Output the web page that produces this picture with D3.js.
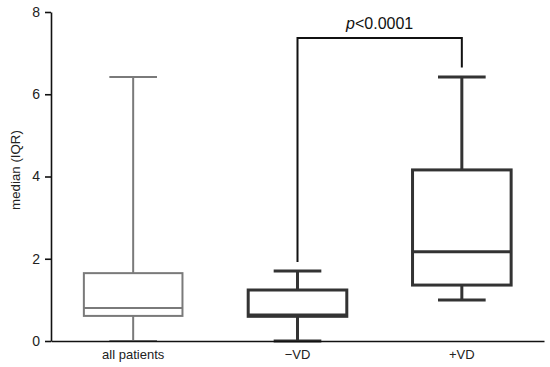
<!DOCTYPE html>
<html><head><meta charset="utf-8">
<script src="https://cdn.jsdelivr.net/npm/d3@7"></script>
<style>body{margin:0;background:#fff}svg{display:block;font-family:"Liberation Sans",Arial,sans-serif}</style>
</head><body><svg id="c" width="550" height="367"></svg>
<script>
const categories = ["all patients", "\u2212VD", "+VD"];
const mins    = [0.0, 0.0, 1.0];
const q1s     = [0.61, 0.60, 1.36];
const medians = [0.80, 0.63, 2.17];
const q3s     = [1.65, 1.24, 4.16];
const maxs    = [6.42, 1.70, 6.42];
const colors  = ["#7a7a7a", "#333333", "#333333"];
const widths  = [2, 3, 3];
const yTicks  = [0, 2, 4, 6, 8];
const pText   = "<0.0001";
const bracketY = 7.37;
const bracketLeftEnd = 1.92;
const bracketRightEnd = 6.65;

const svg = d3.select("#c");
const x = d3.scaleBand().domain(categories).range([51, 544]).padding(0);
const y = d3.scaleLinear().domain([0, 8]).range([341, 12]);

const yAxis = svg.append("g").attr("transform", "translate(51,0)")
  .call(d3.axisLeft(y).tickValues(yTicks).tickSize(6).tickPadding(5).tickSizeOuter(0));
yAxis.selectAll("text").attr("font-size", 14).attr("fill", "#222");
yAxis.select(".domain").attr("stroke", "#111").attr("stroke-width", 1.6);
yAxis.selectAll(".tick line").attr("stroke", "#111").attr("stroke-width", 1.6);

const data = categories.map((c, i) => ({c, min: mins[i], q1: q1s[i], med: medians[i], q3: q3s[i], max: maxs[i], col: colors[i], w: widths[i]}));
const bw = x.bandwidth() * 0.6;
const cw = x.bandwidth() * 0.29;
const g = svg.append("g");
data.forEach(d => {
  const cx = x(d.c) + x.bandwidth() / 2;
  const gg = g.append("g").attr("stroke", d.col).attr("stroke-width", d.w).attr("fill", "none");
  gg.append("line").attr("x1", cx).attr("x2", cx).attr("y1", y(d.q3)).attr("y2", y(d.max));
  gg.append("line").attr("x1", cx).attr("x2", cx).attr("y1", y(d.q1)).attr("y2", y(d.min));
  gg.append("line").attr("x1", cx - cw / 2).attr("x2", cx + cw / 2).attr("y1", y(d.max)).attr("y2", y(d.max));
  gg.append("line").attr("x1", cx - cw / 2).attr("x2", cx + cw / 2).attr("y1", y(d.min)).attr("y2", y(d.min));
  gg.append("rect").attr("x", cx - bw / 2).attr("width", bw).attr("y", y(d.q3)).attr("height", y(d.q1) - y(d.q3)).attr("fill", "#fff");
  gg.append("line").attr("x1", cx - bw / 2).attr("x2", cx + bw / 2).attr("y1", y(d.med)).attr("y2", y(d.med));
});

const xAxis = svg.append("g").attr("transform", "translate(0,341)")
  .call(d3.axisBottom(x).tickSize(0).tickPadding(9));
xAxis.select(".domain").attr("stroke", "#111").attr("stroke-width", 1.6);
xAxis.selectAll("text").attr("font-size", 13).attr("fill", "#222");

svg.append("text").attr("transform", "translate(20,170) rotate(-90)")
  .attr("text-anchor", "middle").attr("font-size", 13.3).attr("fill", "#222").text("median (IQR)");

const lx = x(categories[1]) + x.bandwidth() / 2;
const rx = x(categories[2]) + x.bandwidth() / 2;
svg.append("path").attr("fill", "none").attr("stroke", "#111").attr("stroke-width", 2)
  .attr("d", `M${lx},${y(bracketLeftEnd)}V${y(bracketY)}H${rx}V${y(bracketRightEnd)}`);
const t = svg.append("text").attr("x", (lx + rx) / 2).attr("y", y(bracketY) - 9)
  .attr("text-anchor", "middle").attr("font-size", 16).attr("fill", "#111");
t.append("tspan").attr("font-style", "italic").text("p");
t.append("tspan").text(pText);
</script></body></html>
